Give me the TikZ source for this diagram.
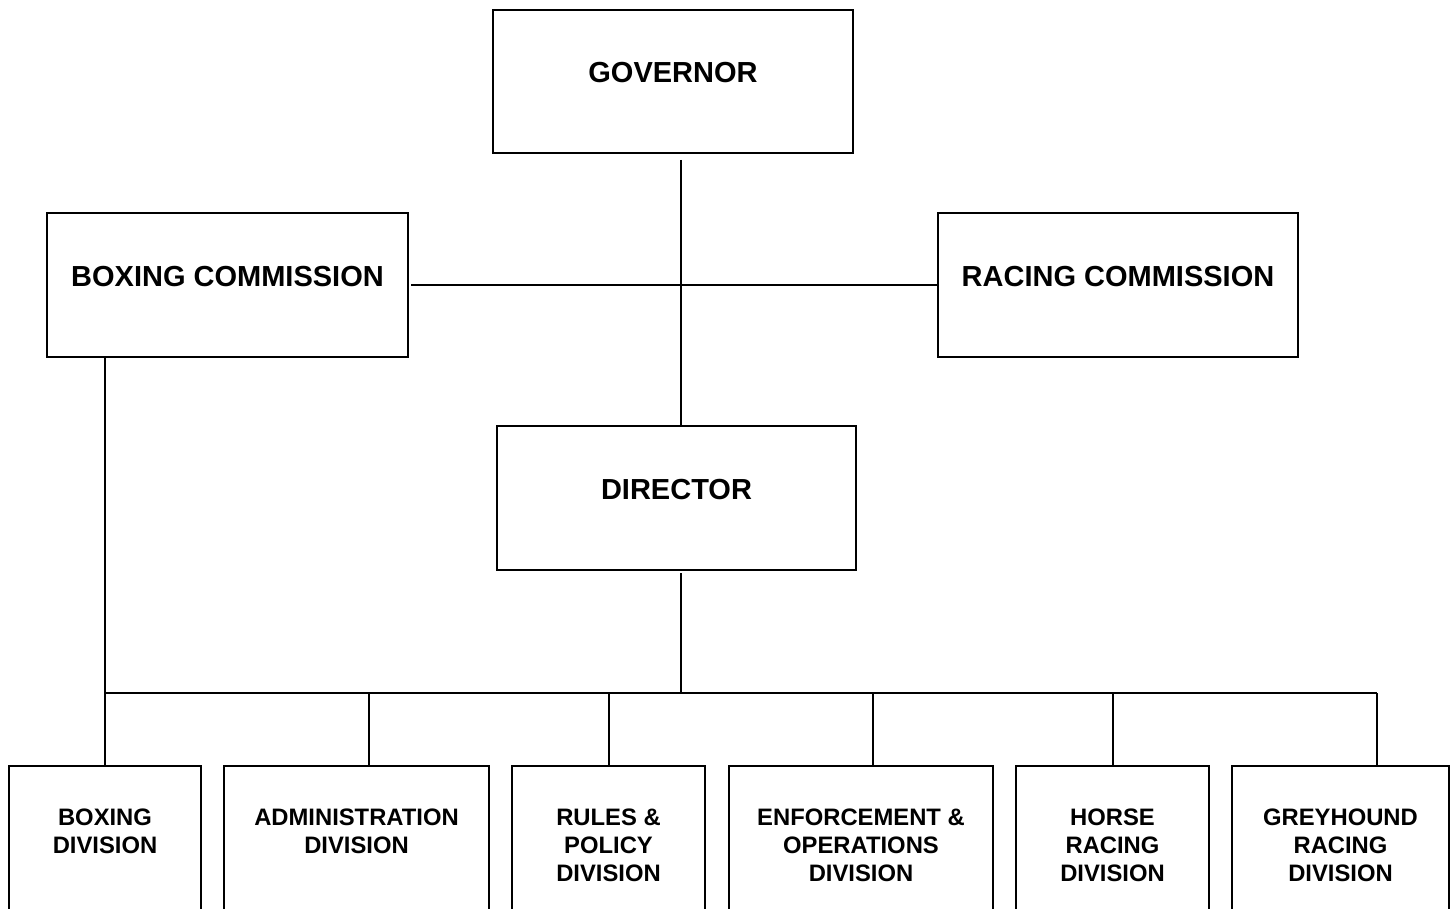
\documentclass[tikz,border=0pt]{standalone}
\usepackage{fontspec}
\setmainfont{Liberation Sans}
\begin{document}
\begin{tikzpicture}[x=1pt,y=-1pt,
  box/.style={draw=black, line width=1.5pt, rectangle, inner sep=0pt, fill=white},
  bigtxt/.style={font=\fontsize{29}{34}\selectfont\bfseries, inner sep=0pt, anchor=base},
  smalltxt/.style={font=\fontsize{23.8}{28.3}\selectfont\bfseries, inner sep=0pt, anchor=north, align=center},
  conn/.style={draw=black, line width=1.5pt}]
\useasboundingbox (0,0) rectangle (1450,909);
\fill[white] (0,0) rectangle (1450,909);
% top boxes
\node[box, minimum width=360pt, minimum height=143pt] (gov) at (673,81.5) {};
\node[box, minimum width=361pt, minimum height=144pt] (boxc) at (227.5,285) {};
\node[box, minimum width=360pt, minimum height=144pt] (racc) at (1118,285) {};
\node[box, minimum width=359pt, minimum height=144pt] (dir) at (676.5,498) {};
\node[bigtxt] (govT) at (673,83) {GOVERNOR};
\node[bigtxt] (boxcT) at (227.5,286) {BOXING COMMISSION};
\node[bigtxt] (raccT) at (1118,286) {RACING COMMISSION};
\node[bigtxt] (dirT) at (676.5,499) {DIRECTOR};
% bottom boxes
\node[box, minimum width=192pt, minimum height=144pt] (b1) at (105,838) {};
\node[box, minimum width=265pt, minimum height=144pt] (b2) at (356.5,838) {};
\node[box, minimum width=193pt, minimum height=144pt] (b3) at (608.5,838) {};
\node[box, minimum width=264pt, minimum height=144pt] (b4) at (861,838) {};
\node[box, minimum width=193pt, minimum height=144pt] (b5) at (1112.5,838) {};
\node[box, minimum width=217pt, minimum height=144pt] (b6) at (1340.5,838) {};
\node[smalltxt] (b1T) at (105,808.5) {BOXING\\DIVISION};
\node[smalltxt] (b2T) at (356.5,808.5) {ADMINISTRATION\\DIVISION};
\node[smalltxt] (b3T) at (608.5,808.5) {RULES \&\\POLICY\\DIVISION};
\node[smalltxt] (b4T) at (861,808.5) {ENFORCEMENT \&\\OPERATIONS\\DIVISION};
\node[smalltxt] (b5T) at (1112.5,808.5) {HORSE\\RACING\\DIVISION};
\node[smalltxt] (b6T) at (1340.5,808.5) {GREYHOUND\\RACING\\DIVISION};
% connector points
\coordinate (g1) at (681,160);
\coordinate (d1) at (681,573);
\coordinate (busD) at (681,693);
\coordinate (busL) at (105,693);
\coordinate (busR) at (1377,693);
\coordinate (h1) at (411,285);
\coordinate (s2) at (369,693);
\coordinate (s3) at (609,693);
\coordinate (s4) at (873,693);
\coordinate (s5) at (1113,693);
\coordinate (s6) at (1377,693);
% connectors
\draw[conn] (g1) -- (g1 |- dir.north);
\draw[conn] (h1) -- (racc.west);
\draw[conn] (boxc.south -| b1.north) -- (b1.north);
\draw[conn] (d1) -- (busD);
\draw[conn] (busL) -- (busR);
\draw[conn] (s2) -- (s2 |- b2.north);
\draw[conn] (s3) -- (s3 |- b3.north);
\draw[conn] (s4) -- (s4 |- b4.north);
\draw[conn] (s5) -- (s5 |- b5.north);
\draw[conn] (s6) -- (s6 |- b6.north);
\end{tikzpicture}
\end{document}
